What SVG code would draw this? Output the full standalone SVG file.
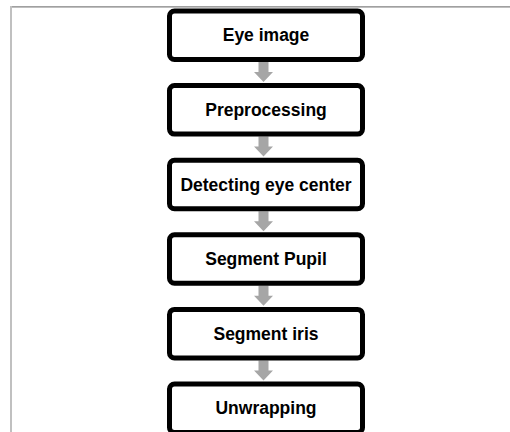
<svg xmlns="http://www.w3.org/2000/svg" width="510" height="432" viewBox="0 0 510 432">
<style>
.box{fill:#fff;stroke:#000;stroke-width:5}
.lbl{font-family:"Liberation Sans",Arial,sans-serif;font-weight:bold;font-size:17.5px;fill:#000;text-anchor:middle}
.arr{fill:#a6a6a6}
</style>
<rect x="0" y="0" width="510" height="432" fill="#fff"/>
<line x1="10" y1="6.8" x2="510" y2="6.8" stroke="#808080" stroke-width="1.3"/>
<line x1="11" y1="6" x2="11" y2="432" stroke="#c0c0c0" stroke-width="2"/>
<g id="connectors">
<polygon class="arr" points="258.5,62 268.5,62 268.5,72 273,72 263.5,82 254,72 258.5,72"/>
<polygon class="arr" points="258.5,136.6 268.5,136.6 268.5,146.6 273,146.6 263.5,156.6 254,146.6 258.5,146.6"/>
<polygon class="arr" points="258.5,211.2 268.5,211.2 268.5,221.2 273,221.2 263.5,231.2 254,221.2 258.5,221.2"/>
<polygon class="arr" points="258.5,285.8 268.5,285.8 268.5,295.8 273,295.8 263.5,305.8 254,295.8 258.5,295.8"/>
<polygon class="arr" points="258.5,360.4 268.5,360.4 268.5,370.4 273,370.4 263.5,380.4 254,370.4 258.5,370.4"/>
</g>
<g id="n1"><rect class="box" x="169.5" y="11" width="193" height="48.5" rx="5"/><text class="lbl" x="266" y="41.3">Eye image</text></g>
<g id="n2"><rect class="box" x="169.5" y="85.6" width="193" height="48.5" rx="5"/><text class="lbl" x="266" y="115.9">Preprocessing</text></g>
<g id="n3"><rect class="box" x="169.5" y="160.2" width="193" height="48.5" rx="5"/><text class="lbl" x="266" y="190.5">Detecting eye center</text></g>
<g id="n4"><rect class="box" x="169.5" y="234.8" width="193" height="48.5" rx="5"/><text class="lbl" x="266" y="265.1">Segment Pupil</text></g>
<g id="n5"><rect class="box" x="169.5" y="309.4" width="193" height="48.5" rx="5"/><text class="lbl" x="266" y="339.7">Segment iris</text></g>
<g id="n6"><rect class="box" x="169.5" y="384" width="193" height="48.5" rx="5"/><text class="lbl" x="266" y="414.3">Unwrapping</text></g>
</svg>
